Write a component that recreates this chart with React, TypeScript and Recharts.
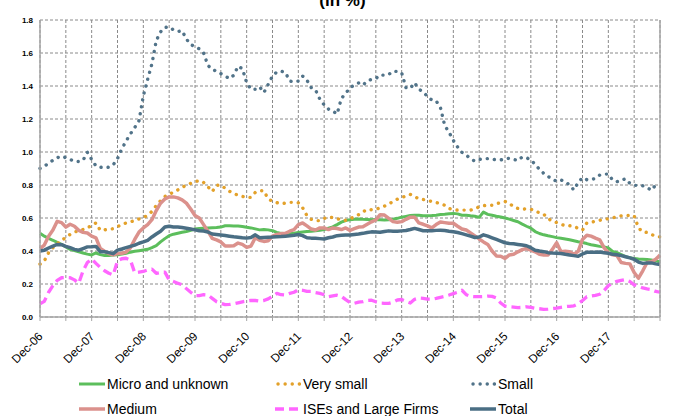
import React from 'react';
import { LineChart, Line, XAxis, YAxis, CartesianGrid } from 'recharts';

// ---- categories: monthly, Dec-06 .. Dec-18 ----
const MONTH_NAMES = ['Jan', 'Feb', 'Mar', 'Apr', 'May', 'Jun', 'Jul', 'Aug', 'Sep', 'Oct', 'Nov', 'Dec'];
const months: string[] = Array.from({ length: 145 }, (_, i) => {
  const k = 11 + i;
  const yr = 2006 + Math.floor(k / 12);
  return `${MONTH_NAMES[k % 12]}-${String(yr % 100).padStart(2, '0')}`;
});

const yTicks = [0, 0.2, 0.4, 0.6, 0.8, 1.0, 1.2, 1.4, 1.6, 1.8];
const xTicks = [0, 6, 12, 18, 24, 30, 36, 42, 48, 54, 60, 66, 72, 78, 84, 90, 96, 102, 108, 114, 120, 126, 132, 138, 144];

// ---- series values (in %) ----
const micro = [
  0.507, 0.49, 0.477, 0.465, 0.452, 0.44, 0.425, 0.41, 0.402, 0.395, 0.388, 0.381,
  0.376, 0.388, 0.378, 0.372, 0.373, 0.375, 0.377, 0.381, 0.386, 0.393, 0.398, 0.402,
  0.406, 0.41, 0.42, 0.432, 0.455, 0.475, 0.493, 0.502, 0.508, 0.514, 0.518, 0.525,
  0.533, 0.536, 0.538, 0.54, 0.541, 0.542, 0.545, 0.553, 0.553, 0.552, 0.552, 0.549,
  0.544, 0.54, 0.534, 0.528, 0.531, 0.528, 0.523, 0.513, 0.507, 0.504, 0.504, 0.508,
  0.512, 0.515, 0.518, 0.52, 0.523, 0.526, 0.53, 0.538, 0.546, 0.56, 0.575, 0.585,
  0.59, 0.592, 0.594, 0.592, 0.591, 0.59, 0.591, 0.589, 0.588, 0.589, 0.592, 0.598,
  0.605, 0.61, 0.615, 0.617, 0.616, 0.614, 0.614, 0.615, 0.617, 0.621, 0.623, 0.626,
  0.628, 0.625, 0.617, 0.616, 0.613, 0.611, 0.604, 0.636, 0.622, 0.617, 0.611, 0.606,
  0.6, 0.593, 0.585, 0.577, 0.563, 0.55, 0.538, 0.518, 0.506, 0.498, 0.492, 0.487,
  0.481, 0.477, 0.473, 0.468, 0.462, 0.456, 0.451, 0.445, 0.438, 0.433, 0.428, 0.425,
  0.418, 0.398, 0.39, 0.378, 0.366, 0.36, 0.354, 0.351, 0.35, 0.348, 0.345, 0.34,
  0.335,
];

const verySmall = [
  0.32, 0.34, 0.39, 0.42, 0.445, 0.46, 0.485, 0.5, 0.515, 0.522, 0.53, 0.54,
  0.555, 0.57, 0.525, 0.528, 0.532, 0.535, 0.548, 0.56, 0.57, 0.577, 0.584, 0.594,
  0.602, 0.617, 0.64, 0.675, 0.705, 0.73, 0.745, 0.755, 0.77, 0.785, 0.8, 0.81,
  0.82, 0.827, 0.815, 0.79, 0.76, 0.798, 0.8, 0.78, 0.762, 0.748, 0.738, 0.731,
  0.724, 0.725, 0.755, 0.765, 0.765, 0.715, 0.702, 0.693, 0.687, 0.69, 0.695, 0.695,
  0.692, 0.662, 0.614, 0.592, 0.585, 0.584, 0.597, 0.607, 0.602, 0.596, 0.588, 0.586,
  0.595, 0.607, 0.62, 0.637, 0.652, 0.65, 0.652, 0.662, 0.672, 0.685, 0.7, 0.714,
  0.722, 0.735, 0.743, 0.73, 0.716, 0.712, 0.707, 0.7, 0.694, 0.687, 0.677, 0.658,
  0.65, 0.648, 0.648, 0.648, 0.648, 0.656, 0.668, 0.675, 0.677, 0.677, 0.686, 0.694,
  0.7, 0.69, 0.667, 0.658, 0.653, 0.656, 0.654, 0.641, 0.632, 0.623, 0.596, 0.582,
  0.572, 0.562, 0.553, 0.553, 0.55, 0.537, 0.527, 0.57, 0.576, 0.579, 0.586, 0.593,
  0.595, 0.6, 0.609, 0.613, 0.616, 0.615, 0.614, 0.54, 0.515, 0.513, 0.5, 0.49,
  0.485,
];

const small = [
  0.9, 0.915, 0.93, 0.95, 0.965, 0.975, 0.965, 0.955, 0.943, 0.942, 0.95, 0.998,
  0.955, 0.915, 0.908, 0.905, 0.908, 0.922, 0.96, 1.02, 1.066, 1.11, 1.148, 1.19,
  1.34, 1.44, 1.535, 1.675, 1.728, 1.755, 1.758, 1.74, 1.73, 1.735, 1.685, 1.65,
  1.64, 1.625, 1.6, 1.525, 1.5, 1.49, 1.475, 1.46, 1.445, 1.465, 1.52, 1.505,
  1.42, 1.38, 1.38, 1.395, 1.36, 1.41, 1.46, 1.485, 1.49, 1.482, 1.43, 1.425,
  1.43, 1.46, 1.435, 1.39, 1.376, 1.32, 1.285, 1.26, 1.248, 1.23, 1.325, 1.355,
  1.39, 1.405, 1.418, 1.405, 1.43, 1.44, 1.445, 1.468, 1.465, 1.47, 1.49, 1.488,
  1.48, 1.39, 1.385, 1.42, 1.38, 1.365, 1.335, 1.315, 1.31, 1.27, 1.16, 1.12,
  1.07, 1.03, 0.998, 0.982, 0.958, 0.945, 0.955, 0.958, 0.96, 0.956, 0.953, 0.952,
  0.958, 0.962, 0.955, 0.948, 0.97, 0.965, 0.952, 0.925, 0.895, 0.87, 0.852, 0.836,
  0.822, 0.83, 0.82, 0.8, 0.77, 0.815, 0.845, 0.832, 0.833, 0.84, 0.86, 0.866,
  0.866, 0.83, 0.82, 0.828, 0.838, 0.81, 0.798, 0.798, 0.795, 0.785, 0.768, 0.8,
  0.806,
];

const medium = [
  0.415, 0.436, 0.49, 0.527, 0.58, 0.572, 0.545, 0.562, 0.55, 0.525, 0.513, 0.509,
  0.49, 0.48, 0.415, 0.398, 0.385, 0.376, 0.385, 0.386, 0.393, 0.42, 0.47, 0.515,
  0.54, 0.56, 0.59, 0.645, 0.69, 0.715, 0.728, 0.728, 0.722, 0.71, 0.69, 0.655,
  0.615, 0.6, 0.56, 0.52, 0.477, 0.467, 0.455, 0.43, 0.43, 0.432, 0.448, 0.44,
  0.422, 0.43, 0.48, 0.465, 0.458, 0.462, 0.49, 0.5, 0.505, 0.507, 0.52, 0.53,
  0.56, 0.57, 0.552, 0.533, 0.527, 0.54, 0.54, 0.53, 0.54, 0.536, 0.53, 0.54,
  0.525, 0.535, 0.545, 0.547, 0.562, 0.577, 0.588, 0.62, 0.618, 0.598, 0.578, 0.574,
  0.578, 0.592, 0.605, 0.605, 0.57, 0.562, 0.552, 0.54, 0.56, 0.576, 0.572, 0.568,
  0.568, 0.55, 0.533, 0.527, 0.51, 0.492, 0.473, 0.455, 0.44, 0.4, 0.37, 0.368,
  0.355, 0.376, 0.38, 0.395, 0.408, 0.415, 0.405, 0.395, 0.38, 0.376, 0.376, 0.41,
  0.45, 0.395, 0.398, 0.395, 0.38, 0.398, 0.47, 0.495, 0.49, 0.478, 0.468, 0.42,
  0.388, 0.377, 0.372, 0.33, 0.325, 0.322, 0.27, 0.235, 0.28, 0.33, 0.335, 0.35,
  0.375,
];

const ises = [
  0.08, 0.095, 0.15, 0.19, 0.222, 0.238, 0.24, 0.238, 0.225, 0.205, 0.28, 0.33,
  0.352, 0.325, 0.3, 0.28, 0.265, 0.255, 0.34, 0.353, 0.356, 0.345, 0.268, 0.272,
  0.276, 0.285, 0.29, 0.265, 0.27, 0.272, 0.225, 0.215, 0.205, 0.195, 0.172, 0.15,
  0.13, 0.13, 0.135, 0.133, 0.113, 0.093, 0.083, 0.075, 0.076, 0.08, 0.086, 0.092,
  0.097, 0.1, 0.1, 0.096, 0.1, 0.11, 0.125, 0.143, 0.135, 0.133, 0.143, 0.15,
  0.165, 0.162, 0.155, 0.155, 0.148, 0.143, 0.135, 0.123, 0.128, 0.132, 0.125, 0.105,
  0.088, 0.083, 0.09, 0.093, 0.1, 0.102, 0.092, 0.084, 0.083, 0.083, 0.09, 0.103,
  0.106, 0.095, 0.085, 0.107, 0.115, 0.113, 0.108, 0.108, 0.113, 0.119, 0.125, 0.133,
  0.142, 0.15, 0.162, 0.135, 0.125, 0.123, 0.123, 0.124, 0.127, 0.125, 0.115, 0.085,
  0.066, 0.062, 0.06, 0.057, 0.058, 0.062, 0.058, 0.053, 0.05, 0.046, 0.048, 0.051,
  0.054, 0.059, 0.063, 0.065, 0.068, 0.08, 0.1, 0.123, 0.127, 0.131, 0.138, 0.16,
  0.19, 0.205, 0.216, 0.222, 0.227, 0.215, 0.195, 0.186, 0.176, 0.17, 0.166, 0.155,
  0.15,
];

const total = [
  0.4, 0.405, 0.418, 0.43, 0.44, 0.438, 0.428, 0.42, 0.41, 0.405, 0.415, 0.425,
  0.426, 0.428, 0.396, 0.395, 0.39, 0.384, 0.405, 0.412, 0.42, 0.428, 0.436, 0.447,
  0.455, 0.465, 0.485, 0.503, 0.52, 0.545, 0.55, 0.546, 0.545, 0.542, 0.538, 0.533,
  0.528, 0.523, 0.521, 0.515, 0.503, 0.5, 0.497, 0.494, 0.49, 0.486, 0.483, 0.48,
  0.478, 0.482, 0.498, 0.48, 0.482, 0.484, 0.485, 0.487, 0.488, 0.49, 0.492, 0.495,
  0.5, 0.493, 0.48, 0.478, 0.477, 0.475, 0.473, 0.48, 0.485, 0.493, 0.495, 0.497,
  0.497, 0.5, 0.503, 0.507, 0.512, 0.516, 0.515, 0.514, 0.518, 0.522, 0.52, 0.52,
  0.522, 0.524, 0.53, 0.537, 0.53, 0.523, 0.523, 0.523, 0.525, 0.526, 0.524, 0.52,
  0.517, 0.512, 0.505, 0.498, 0.49, 0.482, 0.485, 0.498, 0.49, 0.48, 0.47, 0.46,
  0.45, 0.446, 0.444, 0.44, 0.436, 0.432, 0.42, 0.405, 0.4, 0.396, 0.39, 0.388,
  0.387, 0.385, 0.38, 0.376, 0.372, 0.368, 0.382, 0.392, 0.392, 0.392, 0.394, 0.39,
  0.386, 0.38, 0.377, 0.372, 0.365, 0.358, 0.35, 0.333, 0.325, 0.328, 0.328, 0.322,
  0.318,
];

const data = months.map((m, i) => ({
  idx: i,
  month: m,
  micro: micro[i],
  verySmall: verySmall[i],
  small: small[i],
  medium: medium[i],
  ises: ises[i],
  total: total[i],
}));

type SeriesStyle = {
  key: string;
  name: string;
  color: string;
  width: number;
  dash?: string;
  cap?: 'round' | 'butt';
};

const series: SeriesStyle[] = [
  { key: 'micro', name: 'Micro and unknown', color: '#5CBE5C', width: 3 },
  { key: 'verySmall', name: 'Very small', color: '#E3A12A', width: 3.4, dash: '0.1 7', cap: 'round' },
  { key: 'small', name: 'Small', color: '#517389', width: 3.4, dash: '0.1 7', cap: 'round' },
  { key: 'medium', name: 'Medium', color: '#DB918C', width: 3.5 },
  { key: 'ises', name: 'ISEs and Large Firms', color: '#FF66FF', width: 3.3, dash: '9 5' },
  { key: 'total', name: 'Total', color: '#4A6E84', width: 3.5 },
];

const FONT = '"Liberation Sans", Arial, sans-serif';
const AXIS_GRAY = '#A6A6A6';

const XTick = (props: any) => {
  const { x, y, payload } = props;
  const i = payload.value as number;
  if (i % 12 !== 0 || i >= 144) return <g />;
  return (
    <g transform={`translate(${x + 3.5},${y + 14})`}>
      <text
        x={0}
        y={0}
        transform="rotate(-45)"
        textAnchor="end"
        fontFamily={FONT}
        fontSize={11.8}
        fill="#000"
      >
        {months[i]}
      </text>
    </g>
  );
};

const legendCols = [79, 275, 470];
const legendRows = [384, 409];

const LegendSample = ({ s }: { s: SeriesStyle }) => (
  <svg width={26} height={8} style={{ display: 'block' }}>
    <line
      x1={s.dash && s.cap === 'round' ? 3 : 0}
      y1={4}
      x2={26}
      y2={4}
      stroke={s.color}
      strokeWidth={s.width}
      strokeDasharray={s.dash}
      strokeLinecap={s.cap || 'butt'}
    />
  </svg>
);

export default function App() {
  return (
    <div style={{ position: 'absolute', left: 0, top: 0, width: 687, height: 416, background: '#fff', overflow: 'hidden' }}>
      <div
        style={{
          position: 'absolute',
          left: 0,
          top: -8,
          width: 685,
          textAlign: 'center',
          fontFamily: FONT,
          fontWeight: 'bold',
          fontSize: 17,
          lineHeight: '17px',
          color: '#000',
        }}
      >
        (in %)
      </div>
      <LineChart width={687} height={416} data={data} margin={{ top: 20, right: 0, bottom: 0, left: 0 }}>
        <CartesianGrid stroke="#8A8A8A" strokeDasharray="3 2" strokeWidth={1} />
        <XAxis
          dataKey="idx"
          type="number"
          domain={[0, 144]}
          ticks={xTicks}
          interval={0}
          height={99}
          axisLine={{ stroke: AXIS_GRAY, strokeWidth: 1.5 }}
          tickLine={{ stroke: AXIS_GRAY }}
          tickSize={4}
          tick={<XTick />}
        />
        <YAxis
          domain={[0, 1.8]}
          ticks={yTicks}
          interval={0}
          width={40}
          axisLine={{ stroke: AXIS_GRAY, strokeWidth: 1.5 }}
          tickLine={false}
          tickSize={4}
          tickMargin={3}
          tickFormatter={(v: number) => v.toFixed(1)}
          tick={{ fontFamily: FONT, fontSize: 8, fontWeight: 'bold', fill: '#000' }}
        />
        <YAxis
          yAxisId="right"
          orientation="right"
          domain={[0, 1.8]}
          ticks={yTicks}
          interval={0}
          width={27}
          axisLine={{ stroke: AXIS_GRAY, strokeWidth: 1.5 }}
          tickLine={{ stroke: AXIS_GRAY }}
          tickSize={3}
          tickMargin={4}
          tickFormatter={(v: number) => v.toFixed(1)}
          tick={{ fontFamily: FONT, fontSize: 8, fontWeight: 'bold', fill: '#000' }}
        />
        {series.map((s) => (
          <Line
            key={s.key}
            dataKey={s.key}
            name={s.name}
            type="linear"
            stroke={s.color}
            strokeWidth={s.width}
            strokeDasharray={s.dash}
            strokeLinecap={s.cap || 'butt'}
            strokeLinejoin="round"
            dot={false}
            activeDot={false}
            isAnimationActive={false}
          />
        ))}
      </LineChart>
      {series.map((s, i) => {
        const col = legendCols[i % 3];
        const row = legendRows[Math.floor(i / 3)];
        return (
          <div
            key={s.key}
            style={{
              position: 'absolute',
              left: col,
              top: row - 9,
              height: 18,
              display: 'flex',
              alignItems: 'center',
              fontFamily: FONT,
              fontSize: 14,
              color: '#000',
              whiteSpace: 'nowrap',
            }}
          >
            <LegendSample s={s} />
            <span style={{ marginLeft: 2 }}>{s.name}</span>
          </div>
        );
      })}
    </div>
  );
}
